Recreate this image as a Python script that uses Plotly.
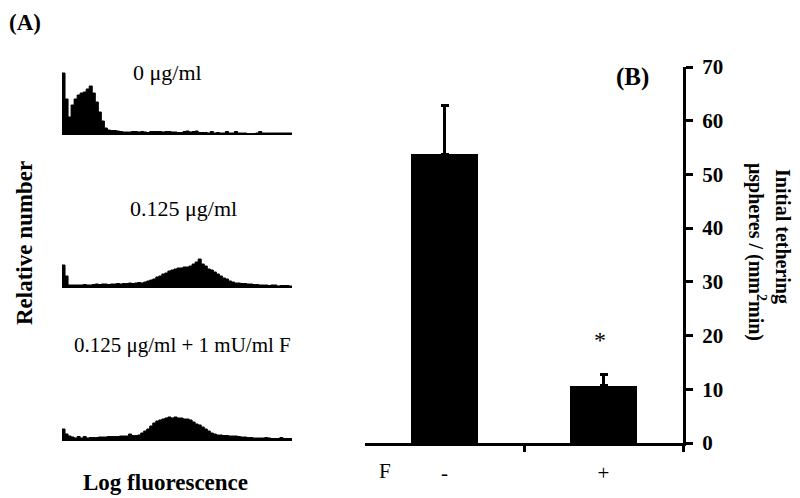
import plotly.graph_objects as go

# ---------------- data ----------------
# Panel A: flow cytometry histograms (relative number per log-fluorescence channel)
hist_0 = [62, 36, 18, 30, 36, 40, 42, 43, 46, 49, 42, 33, 23, 14, 7, 5, 4.5, 4.5, 4, 3.5,
          3, 3, 3, 3.5, 3.5, 3, 3.5, 3, 2.5, 3.5, 3.5, 3.5, 3.5, 3, 3.5, 3.5, 3, 3, 2.5, 2.5,
          3.5, 4, 3, 3.5, 4, 2.5, 2.5, 2.5, 2, 3.5, 2, 2.5, 2, 2, 3.5, 2, 2, 3.5, 2, 2,
          2, 1.5, 1.5, 1.5, 2, 3.5, 2, 2, 2, 2, 2, 2, 2, 2, 2, 2]
hist_0125 = [23, 12, 3, 3, 3, 3, 3, 3.5, 3, 3, 3.5, 4, 3.5, 4, 4, 3.5, 4, 4, 4.5, 4,
             4.5, 4.5, 5, 4.5, 5, 5.5, 5, 6, 7, 8, 9, 11, 12, 14, 15, 17, 18, 19, 20, 20,
             21, 21, 22, 24, 26, 29, 24, 22, 19, 18, 16, 14, 12, 10, 9, 7, 6, 5, 5, 4.5,
             4.5, 4, 4, 3.5, 3.5, 3, 3, 3, 2.5, 3, 3, 2, 2.5, 2.5, 2.5, 2]
hist_0125_F = [12, 7, 5, 4, 3, 4.5, 3, 4.5, 3, 3.5, 3.5, 3.5, 4, 4, 4, 4.5, 4.5, 4.5, 4.5, 5,
               5, 5, 7, 5.5, 5.5, 6, 8, 10, 12, 15, 18, 20, 21, 22, 23, 24, 23, 24, 23, 23,
               22, 22, 21, 19, 17, 16, 14, 12, 10, 8, 7, 6, 6, 5.5, 5.5, 5, 5, 5, 4.5, 4,
               4, 3.5, 3.5, 3, 3, 3, 3, 3.5, 3, 2.5, 2.5, 2.5, 3.5, 2.5, 2.5, 2.5]
hist_labels = ["0 μg/ml", "0.125 μg/ml", "0.125 μg/ml + 1 mU/ml F"]

# Panel B: initial tethering
f_categories = ["-", "+"]
tether_mean = [53.8, 10.7]
tether_err = [9.1, 2.0]
y_ticks = [0, 10, 20, 30, 40, 50, 60, 70]

# ---------------- figure ----------------
W, H = 800, 498
OFF = 8  # page body margin
def py(p):  # screen pixel row -> paper y
    return 1 - (p - OFF) / H
def px(p):
    return (p - OFF) / W

fig = go.Figure()
SERIF = "Liberation Serif"

hists = [hist_0, hist_0125, hist_0125_F]
# (baseline px, top px, y range max)
panels = [(135, 70, 65), (288, 253, 35), (441, 411, 30)]
for i, (vals, (base, top, ymax)) in enumerate(zip(hists, panels)):
    n = len(vals)
    xs = list(range(n + 1))
    ys = list(vals) + [vals[-1]]
    sfx = "" if i == 0 else str(i + 1)
    fig.add_trace(go.Scatter(x=xs, y=ys, mode="lines", line=dict(shape="hv", color="black", width=1),
                             fill="tozeroy", fillcolor="black", showlegend=False, hoverinfo="skip",
                             xaxis="x" + sfx, yaxis="y" + sfx))
    fig.layout["xaxis" + sfx] = dict(domain=[px(62), px(292)], range=[0, n], visible=False,
                                     anchor="y" + sfx, fixedrange=True, automargin=False)
    fig.layout["yaxis" + sfx] = dict(domain=[py(base), py(top)], range=[0, ymax], visible=False,
                                     anchor="x" + sfx, fixedrange=True, automargin=False)

# Bar chart
fig.add_trace(go.Bar(x=[0, 1], y=tether_mean, width=0.42, marker=dict(color="black", line=dict(width=0)),
                     error_y=dict(type="data", array=tether_err, arrayminus=[0, 0], symmetric=False,
                                  color="black", thickness=3, width=4),
                     showlegend=False, xaxis="x4", yaxis="y4"))

fig.update_layout(
    xaxis4=dict(domain=[px(365), px(683)], range=[-0.5, 1.5], anchor="y4", automargin=False,
                tickmode="array", tickvals=[0, 1], ticktext=f_categories, ticks="",
                ticklabelstandoff=9,
                showline=True, linecolor="black", linewidth=3, showgrid=False, zeroline=False,
                tickfont=dict(family=SERIF, size=21, color="black"),
                minor=dict(tickmode="array", tickvals=[0.5, 1.5], ticks="outside", ticklen=6,
                           tickwidth=3, tickcolor="black", showgrid=False)),
    yaxis4=dict(domain=[py(443), py(67)], range=[0, 70], anchor="x4", side="right", automargin=False,
                tickmode="array", tickvals=y_ticks, ticks="outside", ticklen=7, tickwidth=3,
                ticklabelstandoff=5,
                tickcolor="black", showline=True, linecolor="black", linewidth=3,
                showgrid=False, zeroline=False,
                tickfont=dict(family=SERIF, size=21, color="black", weight="bold")),
)

anns = [
    dict(text="<b>(A)</b>", x=px(25), y=py(8), size=23, yanchor="top"),
    dict(text="<b>(B)</b>", x=px(632), y=py(77), size=25),
    dict(text=hist_labels[0], x=px(167), y=py(72), size=22),
    dict(text=hist_labels[1], x=px(183), y=py(208), size=22),
    dict(text=hist_labels[2], x=px(182), y=py(345), size=21),
    dict(text="<b>Log fluorescence</b>", x=px(165), y=py(482), size=23),
    dict(text="<b>Relative number</b>", x=px(24), y=py(243), size=23, angle=-90),
    dict(text="<b>Initial tethering</b>", x=px(782), y=py(236), size=20, angle=90),
    dict(text="<b>μspheres / (mm<sup>2</sup>min)</b>", x=px(757), y=py(252), size=20, angle=90),
    dict(text="F", x=px(385), y=py(471), size=21),
    dict(text="*", x=px(600), y=py(340), size=24),
]
for a in anns:
    fig.add_annotation(text=a["text"], x=a["x"], y=a["y"], xref="paper", yref="paper",
                       showarrow=False, textangle=a.get("angle", 0), xanchor="center",
                       yanchor=a.get("yanchor", "middle"),
                       font=dict(family=SERIF, size=a["size"], color="black"))

fig.update_layout(template="none", width=W, height=H, margin=dict(l=0, r=0, t=0, b=0, pad=0),
                  paper_bgcolor="white", plot_bgcolor="white", bargap=0)

fig.write_html("out.html")
